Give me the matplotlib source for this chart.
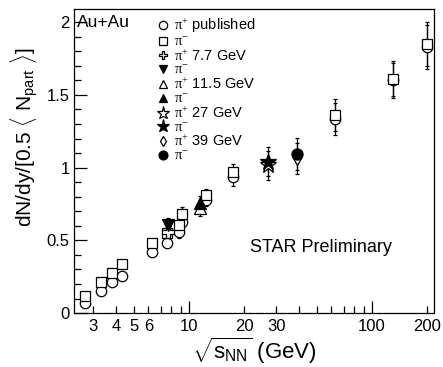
import numpy as np
import matplotlib
matplotlib.use('Agg')
import matplotlib.pyplot as plt
from matplotlib.ticker import FixedLocator, FuncFormatter, MultipleLocator

plt.rcParams['font.family'] = ['Liberation Sans', 'DejaVu Sans']
plt.rcParams['mathtext.fontset'] = 'custom'
plt.rcParams['mathtext.rm'] = 'Liberation Serif'
plt.rcParams['mathtext.sf'] = 'Liberation Sans'
plt.rcParams['mathtext.it'] = 'Liberation Sans:italic'

# published pi+/pi- yields (AGS, SPS, RHIC)
pub_energy = [2.7, 3.3, 3.8, 4.3, 6.3, 7.6, 8.8, 9.2, 12.3, 17.3, 62.4, 130, 200]
pub_pip = [0.067, 0.153, 0.211, 0.254, 0.421, 0.479, 0.556, 0.628, 0.777, 0.937, 1.338, 1.601, 1.830]
pub_pim = [0.117, 0.213, 0.277, 0.337, 0.483, 0.552, 0.605, 0.678, 0.810, 0.967, 1.361, 1.613, 1.849]
pub_err = [0, 0, 0, 0, 0, 0, 0.04, 0.05, 0.04, 0.06, 0.11, 0.12, 0.15]

# BES preliminary
bes_energy = [7.7, 11.5, 27, 39]
bes_pip = [0.559, 0.720, 1.017, 1.063]
bes_pim = [0.605, 0.754, 1.040, 1.097]
bes_err = [0.05, 0.05, 0.10, 0.11]

fig = plt.figure(figsize=(4.43, 3.67), dpi=100)
ax = fig.add_axes([0.167, 0.147, 0.8126, 0.828])

ms = 7.5
eb = dict(fmt='none', ecolor='black', elinewidth=0.9, capsize=1.5, capthick=0.9)
ax.errorbar(pub_energy, pub_pip, yerr=pub_err, **eb)
ax.errorbar(pub_energy, pub_pim, yerr=pub_err, **eb)
ax.errorbar(bes_energy, bes_pip, yerr=bes_err, **eb)
ax.errorbar(bes_energy, bes_pim, yerr=bes_err, **eb)

h = []
h.append(ax.plot(pub_energy, pub_pip, 'o', ms=ms, mfc='white', mec='black', mew=0.9,
                 label=r'$\mathrm{\pi^{+}}$ published')[0])
h.append(ax.plot(pub_energy, pub_pim, 's', ms=ms - 1, mfc='white', mec='black', mew=0.9,
                 label=r'$\mathrm{\pi^{-}}$')[0])

styles = [
    ('P', 'white', 8, 'v', 'black', 8),
    ('^', 'white', 8, '^', 'black', 8),
    ('*', 'white', 12, '*', 'black', 12),
    ('d', 'white', 7, 'o', 'black', 8),
]
for i, e in enumerate(bes_energy):
    mp, fp, sp, mm, fm, sm = styles[i]
    lbl = '%g' % e
    h.append(ax.plot([e], [bes_pip[i]], mp, ms=sp, mfc=fp, mec='black', mew=0.9,
                     label=r'$\mathrm{\pi^{+}}$ ' + lbl + ' GeV')[0])
    h.append(ax.plot([e], [bes_pim[i]], mm, ms=sm, mfc=fm, mec='black', mew=0.9,
                     label=r'$\mathrm{\pi^{-}}$')[0])

ax.set_xscale('log')
ax.set_xlim(2.35, 218)
ax.set_ylim(0, 2.09)

# x ticks, ROOT style
ax.xaxis.set_major_locator(FixedLocator([10, 100]))
ax.xaxis.set_major_formatter(FuncFormatter(lambda v, p: '%d' % v))
minors = [3, 4, 5, 6, 7, 8, 9, 20, 30, 40, 50, 60, 70, 80, 90, 200]
shown = [3, 4, 5, 6, 20, 30, 200]
ax.xaxis.set_minor_locator(FixedLocator(minors))
ax.xaxis.set_minor_formatter(FuncFormatter(lambda v, p: '%d' % v if round(v) in shown else ''))
ax.yaxis.set_major_locator(MultipleLocator(0.5))
ax.yaxis.set_minor_locator(MultipleLocator(0.1))
ax.yaxis.set_major_formatter(FuncFormatter(lambda v, p: '%g' % v))

ax.tick_params(which='both', direction='in', top=False, right=False, labelsize=12, width=0.9)
ax.tick_params(which='major', length=9, pad=4)
ax.tick_params(which='minor', length=5, pad=4)
ax.tick_params(axis='y', pad=3)
for s in ax.spines.values():
    s.set_linewidth(0.9)

ax.set_xlabel(r'$\sqrt{\mathsf{s}_{\mathsf{NN}}}$ (GeV)', fontsize=16, labelpad=1)
ax.set_ylabel(r'dN/dy/[0.5 $\langle$ N$_{\mathsf{part}}$ $\rangle$]', fontsize=15)
ax.yaxis.set_label_coords(-0.095, 0.58)

ax.text(0.008, 0.955, 'Au+Au', transform=ax.transAxes, fontsize=12.5, va='center', ha='left')
ax.text(0.49, 0.215, 'STAR Preliminary', transform=ax.transAxes, fontsize=13, va='center', ha='left')

ax.legend(handles=h, loc='upper left', bbox_to_anchor=(0.23, 0.975), frameon=False,
          fontsize=10.5, labelspacing=-0.02, handlelength=0.9, handletextpad=0.25,
          borderpad=0.0, borderaxespad=0.0, markerscale=0.8)

plt.savefig('out.png', dpi=100)
